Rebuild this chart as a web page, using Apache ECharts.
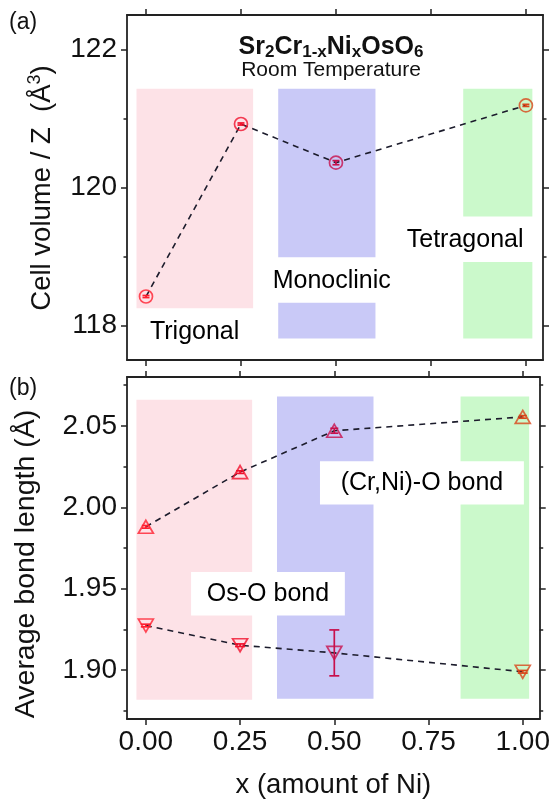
<!DOCTYPE html>
<html>
<head>
<meta charset="utf-8">
<script src="https://cdn.jsdelivr.net/npm/echarts@6/dist/echarts.min.js"></script>
<style>
  html, body { margin: 0; padding: 0; background: #fff; }
  #chart { width: 553px; height: 800px; }
</style>
</head>
<body>
<div id="chart"></div>
<script>
// x (amount of Ni)
const xNi = [0, 0.25, 0.5, 1.0];
// (a) cell volume / Z
const cellVol = [118.42, 120.92, 120.36, 121.19];
const cellVolErr = [0.015, 0.015, 0.03, 0.015];
// (b) average bond lengths
const bondCrNi = [1.988, 2.0216, 2.047, 2.0555];
const bondCrNiErr = [0.0008, 0.0008, 0.0015, 0.0008];
const bondOs = [1.9274, 1.9153, 1.9106, 1.899];
const bondOsErr = [0.0008, 0.0008, 0.0141, 0.0008];
// ticks
const xTicks = [0, 0.25, 0.5, 0.75, 1.0];
const volTicks = [118, 120, 122];
const volMinor = [119, 121];
const bondTicks = [1.90, 1.95, 2.00, 2.05];
const bondMinor = [1.875, 1.925, 1.975, 2.025, 2.075];
const phases = ['Trigonal', 'Monoclinic', 'Tetragonal'];
const markerColors = ['#ff1f2f', '#f0102c', '#c8104c', '#d8461a'];

const FONT = '"Liberation Sans", Arial, sans-serif';
const PINK = '#fde2e7', BLUE = '#c9c9f7', GREEN = '#cbf9cb';
const axisLineStyle = { color: '#222', width: 1.8 };

function xAxisCfg(grid, pos, labels) {
  return {
    gridIndex: grid, type: 'value', position: pos, min: -0.05, max: 1.045,
    axisLine: { show: true, onZero: false, lineStyle: axisLineStyle },
    axisTick: { show: true, customValues: xTicks, length: 6, lineStyle: { color: '#222', width: 1.5 } },
    axisLabel: {
      show: labels, customValues: xTicks, margin: 9, fontSize: 28, color: '#111', fontFamily: FONT,
      formatter: v => v.toFixed(2)
    },
    splitLine: { show: false },
    name: labels ? 'x (amount of Ni)' : '', nameLocation: 'middle', nameGap: 52,
    nameTextStyle: { fontSize: 27.5, color: '#111', fontFamily: FONT }
  };
}

function yAxisCfg(grid, pos, min, max, ticks, minor, labels, digits) {
  return [{
    gridIndex: grid, type: 'value', position: pos, min: min, max: max,
    axisLine: { show: true, onZero: false, lineStyle: axisLineStyle },
    axisTick: { show: true, customValues: ticks, length: 6, lineStyle: { color: '#222', width: 1.5 } },
    axisLabel: {
      show: labels, customValues: ticks, margin: 10, fontSize: 28, color: '#111', fontFamily: FONT,
      formatter: v => v.toFixed(digits)
    },
    splitLine: { show: false }
  }, {
    gridIndex: grid, type: 'value', position: pos, min: min, max: max,
    axisLine: { show: false, onZero: false },
    axisTick: { show: true, customValues: minor, length: 3.5, lineStyle: { color: '#222', width: 1.5 } },
    axisLabel: { show: false },
    splitLine: { show: false }
  }];
}

function errRender(capW) {
  return function (params, api) {
    const x = api.value(0), y = api.value(1), e = api.value(2);
    const hi = api.coord([x, y + e]), lo = api.coord([x, y - e]);
    const st = { stroke: markerColors[params.dataIndex], lineWidth: 1.7 };
    return {
      type: 'group', children: [
        { type: 'line', shape: { x1: hi[0], y1: hi[1], x2: lo[0], y2: lo[1] }, style: st },
        { type: 'line', shape: { x1: hi[0] - capW, y1: hi[1], x2: hi[0] + capW, y2: hi[1] }, style: st },
        { type: 'line', shape: { x1: lo[0] - capW, y1: lo[1], x2: lo[0] + capW, y2: lo[1] }, style: st }
      ]
    };
  };
}

function pts(ys) { return xNi.map((x, i) => [x, ys[i]]); }
function errPts(ys, es) { return xNi.map((x, i) => [x, ys[i], es[i]]); }
function markers(ys) {
  return xNi.map((x, i) => ({ value: [x, ys[i]], itemStyle: { borderColor: markerColors[i] } }));
}
function dashed(name, xi, yi, ys) {
  return {
    name: name, type: 'line', xAxisIndex: xi, yAxisIndex: yi, data: pts(ys), z: 3,
    symbol: 'none', lineStyle: { color: '#1c1c2c', width: 1.6, type: [6, 5] }, silent: true
  };
}
function scatter(name, xi, yi, ys, symbol, size, rotate) {
  return {
    name: name, type: 'scatter', xAxisIndex: xi, yAxisIndex: yi, data: markers(ys), z: 5,
    symbol: symbol, symbolSize: size, symbolRotate: rotate,
    itemStyle: { color: 'rgba(255,255,255,0)', borderWidth: 1.7 }
  };
}
function errSeries(xi, yi, ys, es, capW) {
  return {
    type: 'custom', xAxisIndex: xi, yAxisIndex: yi, data: errPts(ys, es), z: 4,
    renderItem: errRender(capW), silent: true
  };
}
function area(x0, y0, x1, y1, color) {
  return [{ coord: [x0, y0], itemStyle: { color: color } }, { coord: [x1, y1] }];
}

const option = {
  animation: false,
  backgroundColor: '#fff',
  textStyle: { fontFamily: FONT },
  grid: [
    { left: 127, top: 15, width: 416, height: 345 },
    { left: 127, top: 377, width: 416, height: 346 }
  ],
  xAxis: [
    xAxisCfg(0, 'bottom', false), xAxisCfg(0, 'top', false),
    xAxisCfg(1, 'bottom', true), xAxisCfg(1, 'top', false)
  ],
  yAxis: [].concat(
    yAxisCfg(0, 'left', 117.5, 122.5, volTicks, volMinor, true, 0),
    yAxisCfg(0, 'right', 117.5, 122.5, volTicks, volMinor, false, 0),
    yAxisCfg(1, 'left', 1.87, 2.08, bondTicks, bondMinor, true, 2),
    yAxisCfg(1, 'right', 1.87, 2.08, bondTicks, bondMinor, false, 2)
  ),
  graphic: [
    { type: 'text', x: 9, y: 23, style: { text: '(a)', fontSize: 23, fontFamily: FONT, fill: '#111', verticalAlign: 'middle' } },
    { type: 'text', x: 9, y: 389, style: { text: '(b)', fontSize: 23, fontFamily: FONT, fill: '#111', verticalAlign: 'middle' } },
    {
      type: 'text', x: 42, y: 188, rotation: Math.PI / 2,
      style: {
        text: '{m|Cell volume / Z  (Å}{p|3}{m|)}', align: 'center', verticalAlign: 'middle',
        rich: {
          m: { fontSize: 27.5, fontFamily: FONT, fill: '#111', lineHeight: 32 },
          p: { fontSize: 18, fontFamily: FONT, fill: '#111', lineHeight: 18, verticalAlign: 'top' }
        }
      }
    },
    {
      type: 'text', x: 26.5, y: 564, rotation: Math.PI / 2,
      style: { text: 'Average bond length (Å)', align: 'center', verticalAlign: 'middle', fontSize: 28.5, fontFamily: FONT, fill: '#111' }
    },
    {
      type: 'text', x: 331, y: 47,
      style: {
        text: '{m|Sr}{s|2}{m|Cr}{s|1-x}{m|Ni}{s|x}{m|OsO}{s|6}', align: 'center', verticalAlign: 'middle',
        rich: {
          m: { fontSize: 25, fontWeight: 'bold', fontFamily: FONT, fill: '#111', lineHeight: 28 },
          s: { fontSize: 17, fontWeight: 'bold', fontFamily: FONT, fill: '#111', lineHeight: 14, verticalAlign: 'bottom' }
        }
      }
    },
    {
      type: 'text', x: 331, y: 70,
      style: { text: 'Room Temperature', align: 'center', verticalAlign: 'middle', fontSize: 21, fontFamily: FONT, fill: '#111' }
    }
  ],
  series: [
    {
      name: 'regions (a)', type: 'scatter', xAxisIndex: 0, yAxisIndex: 0, z: 1, silent: true, data: [],
      markArea: {
        silent: true,
        data: [
          area(-0.025, 118.25, 0.282, 121.43, PINK),
          area(0.348, 118.99, 0.604, 121.43, BLUE),
          area(0.348, 117.81, 0.604, 118.33, BLUE),
          area(0.835, 119.58, 1.017, 121.43, GREEN),
          area(0.835, 117.81, 1.017, 118.92, GREEN)
        ]
      },
      markPoint: {
        silent: true, symbol: 'circle', symbolSize: 0,
        label: { show: true, position: 'inside', formatter: '{b}', fontSize: 25, color: '#000', fontFamily: FONT },
        data: [
          { name: phases[0], coord: [0.128, 117.91] },
          { name: phases[1], coord: [0.489, 118.64] },
          { name: phases[2], coord: [0.840, 119.24] }
        ]
      }
    },
    {
      name: 'regions (b)', type: 'scatter', xAxisIndex: 2, yAxisIndex: 4, z: 1, silent: true, data: [],
      markArea: {
        silent: true,
        label: { show: true, position: 'inside', fontSize: 25, color: '#000', fontFamily: FONT },
        data: [
          area(-0.025, 1.8818, 0.282, 2.066, PINK),
          area(0.348, 1.8824, 0.604, 2.068, BLUE),
          area(0.835, 1.8824, 1.017, 2.068, GREEN),
          [{ name: '(Cr,Ni)-O bond', coord: [0.462, 2.0282], itemStyle: { color: '#fff' } }, { coord: [1.003, 2.0017] }],
          [{ name: 'Os-O bond', coord: [0.120, 1.9603], itemStyle: { color: '#fff' } }, { coord: [0.528, 1.9336] }]
        ]
      }
    },
    dashed('cell volume line', 0, 0, cellVol),
    errSeries(0, 0, cellVol, cellVolErr, 3.5),
    scatter('Cell volume / Z', 0, 0, cellVol, 'circle', 13, 0),
    dashed('(Cr,Ni)-O line', 2, 4, bondCrNi),
    errSeries(2, 4, bondCrNi, bondCrNiErr, 4),
    scatter('(Cr,Ni)-O bond', 2, 4, bondCrNi, 'triangle', [15, 13], 0),
    dashed('Os-O line', 2, 4, bondOs),
    errSeries(2, 4, bondOs, bondOsErr, 5),
    scatter('Os-O bond', 2, 4, bondOs, 'triangle', [15, 13], 180)
  ]
};

const chart = echarts.init(document.getElementById('chart'));
chart.setOption(option);
</script>
</body>
</html>
